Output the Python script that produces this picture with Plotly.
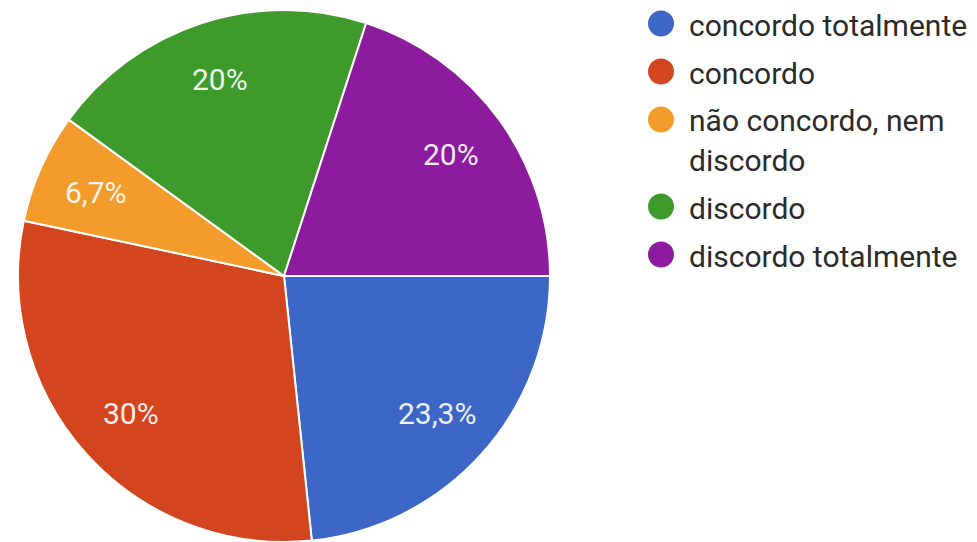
import math
import textwrap
import plotly.graph_objects as go

# Survey answers (30 respondents)
categories = [
    "concordo totalmente",
    "concordo",
    "não concordo, nem discordo",
    "discordo",
    "discordo totalmente",
]
responses = [7, 9, 2, 6, 6]
colors = ["#3d67c6", "#d3451f", "#f39b2b", "#3f9a2c", "#8c1b9d"]

W, H = 977, 542
CX, CY, R = 284, 276, 266  # pie centre and radius, in pixels


def px_x(x):
    return x / W


def px_y(y):
    return 1 - y / H


def pct_label(v, total):
    p = round(100 * v / total, 1)
    s = f"{p:.1f}".rstrip("0").rstrip(".")
    return s.replace(".", ",") + "%"


total = sum(responses)

fig = go.Figure(
    go.Pie(
        labels=categories,
        values=responses,
        sort=False,
        direction="clockwise",
        rotation=90,
        marker=dict(colors=colors, line=dict(color="white", width=2)),
        textinfo="none",
        showlegend=False,
        domain=dict(x=[px_x(CX - R), px_x(CX + R)], y=[px_y(CY + R), px_y(CY - R)]),
    )
)

annotations = []
shapes = []

# Percentage labels placed along each slice's mid-angle
cum = 0
for v in responses:
    mid = (cum + v / 2) / total * 2 * math.pi
    cum += v
    r = 0.775 * R
    x = CX + r * math.cos(mid)
    y = CY + r * math.sin(mid)
    annotations.append(dict(
        x=px_x(x), y=px_y(y), xref="paper", yref="paper",
        text=pct_label(v, total), showarrow=False,
        xanchor="center", yanchor="middle",
        font=dict(family="Roboto", size=30, color="rgba(255,255,255,0.92)"),
    ))

# Legend with round markers on the right
row_step = 48
line_h = 39
y = 23.5
dot_x, dot_r, text_x = 661, 13, 687
for name, c in zip(categories, colors):
    lines = textwrap.wrap(name, width=19)
    for i, ln in enumerate(lines):
        annotations.append(dict(
            x=px_x(text_x), y=px_y(y + 1.5 + i * line_h), xref="paper", yref="paper",
            text=ln, showarrow=False, xanchor="left", yanchor="middle",
            font=dict(family="Roboto", size=30, color="#2b2b2b"),
        ))
    shapes.append(dict(
        type="circle", xref="paper", yref="paper",
        x0=px_x(dot_x - dot_r), x1=px_x(dot_x + dot_r),
        y0=px_y(y + dot_r), y1=px_y(y - dot_r),
        fillcolor=c, line=dict(width=0),
    ))
    y += row_step + (len(lines) - 1) * line_h

fig.update_layout(
    width=W, height=H,
    margin=dict(l=0, r=0, t=0, b=0),
    paper_bgcolor="white",
    plot_bgcolor="white",
    annotations=annotations,
    shapes=shapes,
)

fig.write_html("out.html")
